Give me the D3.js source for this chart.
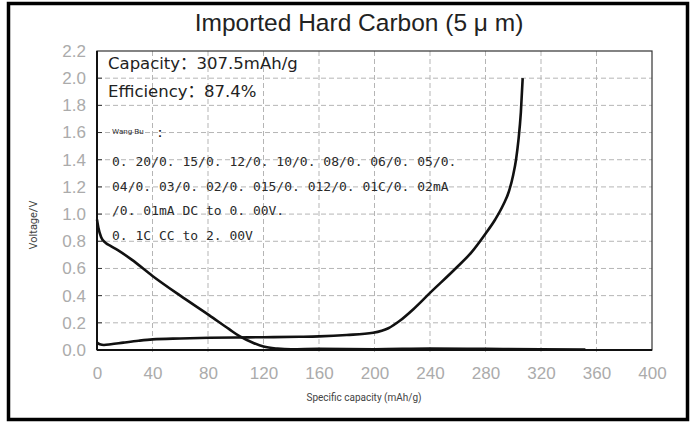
<!DOCTYPE html>
<html>
<head>
<meta charset="utf-8">
<script src="https://cdn.jsdelivr.net/npm/d3@7"></script>
<style>
  html, body { margin: 0; padding: 0; background: #fff; }
  svg { display: block; }
</style>
</head>
<body>
<div id="visualization"></div>
<script>
// values
var xTicks = [0, 40, 80, 120, 160, 200, 240, 280, 320, 360, 400];
var yTicks = [0, 0.2, 0.4, 0.6, 0.8, 1.0, 1.2, 1.4, 1.6, 1.8, 2.0, 2.2];

// charge curve (capacity mAh/g, voltage V)
var chargeCap = [0, 2, 5, 10, 19, 30, 40, 60, 81, 100, 120, 146, 160, 180, 199, 210, 218, 228, 240, 259, 270, 279.6, 287, 292.9, 297, 300, 302, 303.7, 305.5, 306.8];
var chargeV   = [0.054, 0.042, 0.037, 0.042, 0.054, 0.068, 0.078, 0.085, 0.09, 0.092, 0.094, 0.097, 0.1, 0.11, 0.127, 0.16, 0.213, 0.3, 0.42, 0.605, 0.72, 0.85, 0.96, 1.07, 1.17, 1.29, 1.4, 1.54, 1.75, 2.0];

// discharge curve
var dischargeCap = [0, 1, 3, 6, 10, 15, 25, 40, 60, 81, 95, 103, 112, 120, 130, 140, 160, 200, 240, 280, 320, 352];
var dischargeV   = [0.96, 0.9, 0.83, 0.79, 0.765, 0.735, 0.665, 0.545, 0.4, 0.255, 0.155, 0.1, 0.055, 0.025, 0.01, 0.005, 0.008, 0.006, 0.01, 0.008, 0.006, 0.004];

var title = 'Imported Hard Carbon (5 \u03bc m)';
var infoLabels = ['Capacity', 'Efficiency'];
var infoValues = ['307.5mAh/g', '87.4%'];
var notes = [
  '0. 20/0. 15/0. 12/0. 10/0. 08/0. 06/0. 05/0.',
  '04/0. 03/0. 02/0. 015/0. 012/0. 01C/0. 02mA',
  '/0. 01mA DC to 0. 00V.',
  '0. 1C CC to 2. 00V'
];

var width = 693;
var height = 426;

var svg = d3.select('#visualization').append('svg')
  .attr('width', width)
  .attr('height', height);

var x = d3.scaleLinear().domain([0, 400]).range([97, 652]);
var y = d3.scaleLinear().domain([0, 2.2]).range([350, 51]);

// outer frame
svg.append('rect')
  .attr('x', 8.5).attr('y', 3.5)
  .attr('width', 679).attr('height', 416)
  .attr('fill', 'none')
  .attr('stroke', '#000')
  .attr('stroke-width', 3.5);

svg.append('text')
  .attr('x', 359).attr('y', 31)
  .attr('text-anchor', 'middle')
  .style('font-family', 'Liberation Sans, Arial, sans-serif')
  .style('font-size', '24.5px')
  .attr('fill', '#222')
  .text(title);

var g = svg.append('g');

// grid
g.selectAll('.hgrid').data(yTicks.slice(1, -1)).enter().append('line')
  .attr('x1', x(0)).attr('x2', x(400))
  .attr('y1', function(d) { return y(d); })
  .attr('y2', function(d) { return y(d); })
  .attr('stroke', '#b5b5b5')
  .attr('stroke-dasharray', '5,3');

g.selectAll('.vgrid').data(xTicks.slice(1, -1)).enter().append('line')
  .attr('y1', y(2.2)).attr('y2', y(0) + 5)
  .attr('x1', function(d) { return x(d); })
  .attr('x2', function(d) { return x(d); })
  .attr('stroke', '#b5b5b5')
  .attr('stroke-dasharray', '5,3');

// y ticks (inside, short)
g.selectAll('.ytick').data(yTicks.slice(1, -1)).enter().append('line')
  .attr('x1', x(0)).attr('x2', x(0) + 5)
  .attr('y1', function(d) { return y(d); })
  .attr('y2', function(d) { return y(d); })
  .attr('stroke', '#333');

// plot box
g.append('rect')
  .attr('x', x(0)).attr('y', y(2.2))
  .attr('width', x(400) - x(0)).attr('height', y(0) - y(2.2))
  .attr('fill', 'none')
  .attr('stroke', '#333')
  .attr('stroke-width', 1.2);
g.append('line')
  .attr('x1', x(0)).attr('x2', x(0))
  .attr('y1', y(2.2)).attr('y2', y(0))
  .attr('stroke', '#111').attr('stroke-width', 2);
g.append('line')
  .attr('x1', x(0)).attr('x2', x(400))
  .attr('y1', y(0)).attr('y2', y(0))
  .attr('stroke', '#111').attr('stroke-width', 2);

// axes labels
var tickFont = 'Liberation Sans Narrow, Arial Narrow, Liberation Sans, sans-serif';

var yAxis = d3.axisLeft(y).tickValues(yTicks).tickFormat(d3.format('.1f')).tickSize(0).tickPadding(11);
var ya = svg.append('g').attr('transform', 'translate(' + x(0) + ',0)').call(yAxis);
var xAxis = d3.axisBottom(x).tickValues(xTicks).tickFormat(d3.format('d')).tickSize(0).tickPadding(17);
var xa = svg.append('g').attr('transform', 'translate(0,' + y(0) + ')').call(xAxis);
[ya, xa].forEach(function(a) {
  a.select('.domain').remove();
  a.selectAll('text')
    .style('font-family', tickFont)
    .style('font-size', '17px')
    .attr('fill', '#ababab');
});

svg.append('text')
  .attr('transform', 'translate(37,225) rotate(-90)')
  .attr('text-anchor', 'middle')
  .style('font-family', 'Roboto, sans-serif')
  .style('font-size', '11px')
  .attr('fill', '#444')
  .text('Voltage/V');

svg.append('text')
  .attr('x', 364).attr('y', 401)
  .attr('text-anchor', 'middle')
  .style('font-family', 'Roboto, sans-serif')
  .style('font-size', '10px')
  .attr('fill', '#444')
  .text('Specific capacity (mAh/g)');

// curves
var line = d3.line()
  .x(function(d) { return x(d[0]); })
  .y(function(d) { return y(d[1]); })
  .curve(d3.curveMonotoneX);

var charge = d3.zip(chargeCap, chargeV);
var discharge = d3.zip(dischargeCap, dischargeV);

g.append('path').datum(discharge)
  .attr('d', line)
  .attr('fill', 'none')
  .attr('stroke', '#111')
  .attr('stroke-width', 2.6);

g.append('path').datum(charge)
  .attr('d', line)
  .attr('fill', 'none')
  .attr('stroke', '#111')
  .attr('stroke-width', 2.6);

// annotations
var info = svg.selectAll('.info').data(infoLabels).enter().append('text')
  .attr('x', 108)
  .attr('y', function(d, i) { return 69 + i * 28; })
  .style('font-family', 'DejaVu Sans, sans-serif')
  .style('font-size', '16.5px')
  .attr('fill', '#222');
info.append('tspan').text(function(d) { return d; });
info.append('tspan')
  .attr('lang', 'zh-CN')
  .style('font-family', 'Noto Sans CJK SC')
  .text('\uff1a');
info.append('tspan').text(function(d, i) { return infoValues[i]; });

svg.append('text')
  .attr('x', 112).attr('y', 134)
  .style('font-family', 'Roboto, sans-serif')
  .style('font-size', '8px')
  .attr('fill', '#333')
  .text('Wang Bu');
svg.append('text')
  .attr('x', 158).attr('y', 137)
  .style('font-family', 'Liberation Sans, sans-serif')
  .style('font-size', '12px')
  .style('font-weight', 'bold')
  .attr('fill', '#222')
  .text(':');

svg.selectAll('.note').data(notes).enter().append('text')
  .attr('x', 112)
  .attr('y', function(d, i) { return 166 + i * 24.5; })
  .style('font-family', 'DejaVu Sans Mono, Liberation Mono, monospace')
  .style('font-size', '13px')
  .attr('fill', '#2a2a2a')
  .text(function(d) { return d; });
</script>
</body>
</html>
